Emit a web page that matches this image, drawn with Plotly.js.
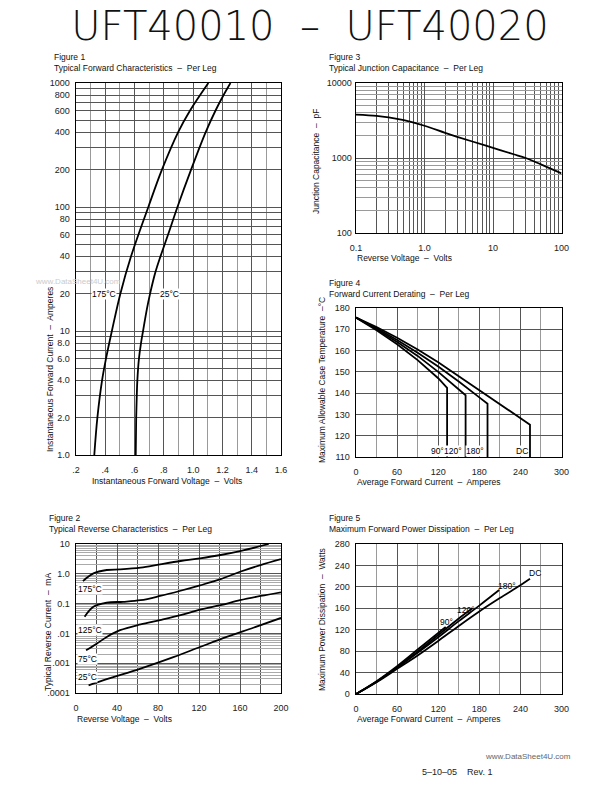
<!DOCTYPE html>
<html><head><meta charset="utf-8">
<script src="https://cdn.plot.ly/plotly-3.0.1.min.js"></script>
<style>html,body{margin:0;padding:0;background:#fff}#chart{width:612px;height:792px}</style>
</head><body><div id="chart"></div>
<script>
// ---------- Figure 1 : forward characteristics ----------
const f1_I175 = [1, 2, 4, 6, 10, 20, 40, 100, 200, 400, 600, 1000];
const f1_V175 = [0.325, 0.346, 0.378, 0.405, 0.445, 0.503, 0.576, 0.694, 0.787, 0.897, 0.979, 1.104];
const f1_I25 = [1, 2, 3, 4, 6, 8, 10, 15, 20, 30, 40, 60, 100, 200, 400, 600, 800, 1000];
const f1_V25 = [0.608, 0.611, 0.615, 0.619, 0.630, 0.644, 0.658, 0.684, 0.706, 0.743, 0.777, 0.829, 0.893, 0.986, 1.085, 1.153, 1.208, 1.255];
const f1_xticks = [0.2, 0.4, 0.6, 0.8, 1.0, 1.2, 1.4, 1.6];
const f1_xlabels = [".2", ".4", ".6", ".8", "1.0", "1.2", "1.4", "1.6"];
const f1_yticks = [1, 2, 4, 6, 8, 10, 20, 40, 60, 80, 100, 200, 400, 600, 800, 1000];
const f1_ylabels = ["1.0", "2.0", "4.0", "6.0", "8.0", "10", "20", "40", "60", "80", "100", "200", "400", "600", "800", "1000"];

// ---------- Figure 2 : reverse characteristics ----------
const f2_V175 = [6.8, 17, 30, 43, 63, 82, 102, 121, 141, 160, 188];
const f2_I175 = [0.57, 1.03, 1.34, 1.4, 1.6, 2.07, 2.69, 3.3, 4.27, 5.8, 10];
const f2_V125 = [8.4, 17, 30, 46, 63, 82, 102, 121, 141, 160, 180, 200];
const f2_I125 = [0.036, 0.078, 0.107, 0.115, 0.13, 0.18, 0.27, 0.41, 0.66, 1.17, 1.96, 3.1];
const f2_V75 = [9.8, 20.5, 30, 43, 63, 82, 102, 121, 141, 160, 180, 200];
const f2_I75 = [0.0027, 0.0046, 0.0076, 0.0128, 0.02, 0.028, 0.041, 0.063, 0.089, 0.13, 0.18, 0.24];
const f2_V25 = [12.3, 30, 63, 95, 121, 147, 173, 200];
const f2_I25 = [0.00018, 0.00029, 0.00066, 0.0016, 0.0035, 0.0076, 0.0155, 0.033];
const f2_xticks = [0, 40, 80, 120, 160, 200];
const f2_yticks = [0.0001, 0.001, 0.01, 0.1, 1, 10];
const f2_ylabels = [".0001", ".001", ".01", "0.1", "1.0", "10"];

// ---------- Figure 3 : junction capacitance ----------
const f3_V = [0.1, 0.2, 0.3, 0.5, 1, 2, 3, 5, 10, 20, 30, 50, 100];
const f3_C = [3793, 3648, 3483, 3199, 2692, 2163, 1919, 1660, 1365, 1122, 1000, 822, 624];
const f3_xticks = [0.1, 1, 10, 100];
const f3_xlabels = ["0.1", "1.0", "10", "100"];
const f3_yticks = [100, 1000, 10000];
const f3_ylabels = ["100", "1000", "10000"];

// ---------- Figure 4 : current derating ----------
const f4_A90 = [0, 30, 60, 90, 120, 133, 133];
const f4_T90 = [175.5, 169.5, 163, 155.5, 147, 142.5, 110];
const f4_A120 = [0, 30, 60, 90, 120, 150, 160, 160];
const f4_T120 = [175.5, 170, 164, 157.5, 150, 142, 139, 110];
const f4_A180 = [0, 30, 60, 90, 120, 150, 180, 192, 192];
const f4_T180 = [175.5, 170.5, 165, 159, 152.5, 145.5, 138, 135, 110];
const f4_ADC = [0, 30, 60, 90, 120, 150, 180, 210, 240, 254, 254];
const f4_TDC = [175.5, 171, 166, 160.5, 154.5, 148, 141.5, 135, 128.5, 125.2, 110];
const f4_labels = ["90°", "120°", "180°", "DC"];
const f4_labelA = [119, 142, 174, 243];
const f4_xticks = [0, 60, 120, 180, 240, 300];
const f4_yticks = [110, 120, 130, 140, 150, 160, 170, 180];

// ---------- Figure 5 : power dissipation ----------
const f5_A90 = [0, 30, 60, 90, 120, 131];
const f5_P90 = [0, 24, 52, 83, 114, 125];
const f5_A120 = [0, 30, 60, 90, 120, 150, 170];
const f5_P120 = [0, 23, 50, 79, 110, 141, 160];
const f5_A180 = [0, 30, 60, 90, 120, 150, 180, 209];
const f5_P180 = [0, 23, 49, 77, 106, 136, 165, 194];
const f5_ADC = [0, 30, 60, 90, 120, 150, 180, 210, 240, 254];
const f5_PDC = [0, 22, 47, 72, 99, 127, 154, 179, 203, 215];
const f5_labels = ["90°", "120°", "180°", "DC"];
const f5_labelA = [132, 161, 221, 262];
const f5_labelP = [135, 157, 201, 226];
const f5_xticks = [0, 60, 120, 180, 240, 300];
const f5_yticks = [0, 40, 80, 120, 160, 200, 240, 280];

// ---------- layout helpers ----------
const W = 612, H = 792;
const px = v => v / W;
const py = v => 1 - v / H;
const FONT = "Liberation Sans, Arial, sans-serif";
const tickFont = {family: FONT, size: 9, color: "#222"};
const MAJ = "#555", MIN = "#9a9a9a";

function logMinor(lo, hi, exclude) {
  const out = [];
  for (let e = lo; e < hi; e++) for (let d = 1; d <= 9; d++) {
    const v = +(d * Math.pow(10, e)).toPrecision(6);
    if (!exclude.some(x => Math.abs(x - v) / v < 1e-6)) out.push(v);
  }
  return out;
}
function linMinor(lo, hi, step) {
  const out = [];
  for (let v = lo; v <= hi + 1e-9; v += step) out.push(+v.toFixed(6));
  return out;
}
function axis(dom, opts) {
  return Object.assign({
    domain: dom, showline: true, mirror: true, linecolor: "#000", linewidth: 1.4,
    ticks: "", tickfont: tickFont, showgrid: true, gridcolor: MAJ, gridwidth: 1,
    zeroline: false, fixedrange: true, tickmode: "array", ticklabelstandoff: 3
  }, opts);
}
const line = (x, y, xa, ya) => ({x, y, xaxis: xa, yaxis: ya, type: "scatter", mode: "lines",
  line: {color: "#000", width: 1.8, shape: "spline", smoothing: 1}, hoverinfo: "skip", showlegend: false});
const lineStraight = (x, y, xa, ya) => ({x, y, xaxis: xa, yaxis: ya, type: "scatter", mode: "lines",
  line: {color: "#000", width: 1.8, shape: "linear"}, hoverinfo: "skip", showlegend: false});

const traces = [
  line(f1_V175, f1_I175, "x", "y"),
  line(f1_V25, f1_I25, "x", "y"),
  line(f3_V, f3_C, "x2", "y2"),
  lineStraight(f4_A90, f4_T90, "x3", "y3"),
  lineStraight(f4_A120, f4_T120, "x3", "y3"),
  lineStraight(f4_A180, f4_T180, "x3", "y3"),
  lineStraight(f4_ADC, f4_TDC, "x3", "y3"),
  line(f2_V175, f2_I175, "x4", "y4"),
  line(f2_V125, f2_I125, "x4", "y4"),
  line(f2_V75, f2_I75, "x4", "y4"),
  line(f2_V25, f2_I25, "x4", "y4"),
  line(f5_A90, f5_P90, "x5", "y5"),
  line(f5_A120, f5_P120, "x5", "y5"),
  line(f5_A180, f5_P180, "x5", "y5"),
  line(f5_ADC, f5_PDC, "x5", "y5")
];

const txt = (x, y, text, o) => Object.assign({xref: "paper", yref: "paper", x: px(x), y: py(y), text,
  showarrow: false, xanchor: "left", yanchor: "middle", font: {family: FONT, size: 8.5, color: "#111"}}, o || {});
const lbl = (xr, yr, x, y, text, o) => Object.assign({xref: xr, yref: yr, x, y, text, showarrow: false,
  font: {family: FONT, size: 8.5, color: "#000"}}, o || {});

const annotations = [
  txt(52, 57, "Figure 1"), txt(52, 68, "Typical Forward Characteristics  –  Per Leg"),
  txt(327, 57, "Figure 3"), txt(327, 68, "Typical Junction Capacitance  –  Per Leg"),
  txt(327, 283, "Figure 4"), txt(327, 294, "Forward Current Derating  –  Per Leg"),
  txt(47, 518, "Figure 2"), txt(47, 529, "Typical Reverse Characteristics  –  Per Leg"),
  txt(327, 518, "Figure 5"), txt(327, 529, "Maximum Forward Power Dissipation  –  Per Leg"),
  // axis titles
  txt(50, 370, "Instantaneous Forward Current  –  Amperes", {xanchor: "center", textangle: -90}),
  txt(167, 481, "Instantaneous Forward Voltage  –  Volts", {xanchor: "center"}),
  txt(316, 162, "Junction Capacitance  –  pF", {xanchor: "center", textangle: -90}),
  txt(404, 258, "Reverse Voltage  –  Volts", {xanchor: "center"}),
  txt(322, 380, "Maximum Allowable Case Temperature  –°C", {xanchor: "center", textangle: -90}),
  txt(428, 482, "Average Forward Current  –  Amperes", {xanchor: "center"}),
  txt(48, 632, "Typical Reverse Current  –  mA", {xanchor: "center", textangle: -90}),
  txt(124, 719, "Reverse Voltage  –  Volts", {xanchor: "center"}),
  txt(322, 620, "Maximum Power Dissipation  –  Watts", {xanchor: "center", textangle: -90}),
  txt(428, 719, "Average Forward Current  –  Amperes", {xanchor: "center"}),
  // footer and watermark
  txt(483, 756, "www.DataSheet4U.com", {font: {family: FONT, size: 8, color: "#666"}}),
  txt(420, 772, "5–10–05    Rev. 1", {font: {family: FONT, size: 9, color: "#222"}}),
  txt(33, 281, "www.DataSheet4U.com", {font: {family: FONT, size: 8, color: "#ccc"}}),
  // curve labels fig 1
  lbl("x", "y", 0.39, Math.log10(20), "175°C", {bgcolor: "#fff", borderpad: 0}),
  lbl("x", "y", 0.84, Math.log10(20), "25°C", {bgcolor: "#fff", borderpad: 0}),
  // curve labels fig 2
  ...[["175°C", 0.3], ["125°C", 0.0135], ["75°C", 0.0014], ["25°C", 0.00035]].map(([t, v]) =>
    lbl("x4", "y4", 1, Math.log10(v), t, {xanchor: "left", bgcolor: "#fff", borderpad: 0})),
  // curve labels fig 4
  ...f4_labels.map((t, i) => lbl("x3", "y3", f4_labelA[i], 112.8, t, {bgcolor: "#fff", borderpad: 0})),
  // curve labels fig 5
  ...f5_labels.map((t, i) => lbl("x5", "y5", f5_labelA[i], f5_labelP[i], t))
];

const layout = {
  width: W, height: H, margin: {l: 0, r: 0, t: 0, b: 0},
  paper_bgcolor: "#fff", plot_bgcolor: "#fff", showlegend: false,
  title: {text: "UFT40010  –  UFT40020", x: 310 / W, xanchor: "center", y: py(26), yanchor: "middle",
    font: {family: "DejaVu Sans ExtraLight, DejaVu Sans, sans-serif", size: 40, weight: 200, color: "#111"}},
  // Figure 1
  xaxis: axis([px(76), px(281)], {anchor: "y", range: [0.2, 1.6], tickvals: f1_xticks, ticktext: f1_xlabels,
    ticklabelstandoff: 6,
    minor: {tickmode: "array", tickvals: linMinor(0.3, 1.5, 0.2), showgrid: true, gridcolor: MIN, gridwidth: 1, ticks: ""}}),
  yaxis: axis([py(455), py(83)], {anchor: "x", type: "log", range: [0, 3], tickvals: f1_yticks, ticktext: f1_ylabels,
    minor: {tickmode: "array", tickvals: logMinor(0, 3, f1_yticks), showgrid: true, gridcolor: MAJ, gridwidth: 1, ticks: ""}}),
  // Figure 3
  xaxis2: axis([px(356), px(561.5)], {anchor: "y2", type: "log", range: [-1, 2], tickvals: f3_xticks, ticktext: f3_xlabels,
    ticklabelstandoff: 6,
    minor: {tickmode: "array", tickvals: logMinor(-1, 2, f3_xticks), showgrid: true, gridcolor: MAJ, gridwidth: 1, ticks: ""}}),
  yaxis2: axis([py(233), py(83)], {anchor: "x2", type: "log", range: [2, 4], tickvals: f3_yticks, ticktext: f3_ylabels,
    ticklabelstandoff: 1,
    minor: {tickmode: "array", tickvals: logMinor(2, 4, f3_yticks), showgrid: true, gridcolor: MIN, gridwidth: 1, ticks: ""}}),
  // Figure 4
  xaxis3: axis([px(356), px(561.5)], {anchor: "y3", range: [0, 300], tickvals: f4_xticks,
    ticklabelstandoff: 6,
    minor: {tickmode: "array", tickvals: linMinor(30, 270, 60), showgrid: true, gridcolor: MIN, gridwidth: 1, ticks: ""}}),
  yaxis3: axis([py(457), py(308)], {anchor: "x3", range: [110, 180], tickvals: f4_yticks}),
  // Figure 2
  xaxis4: axis([px(76), px(281)], {anchor: "y4", range: [0, 200], tickvals: f2_xticks,
    ticklabelstandoff: 6,
    minor: {tickmode: "array", tickvals: linMinor(20, 180, 40), showgrid: true, gridcolor: MAJ, gridwidth: 1, ticks: ""}}),
  yaxis4: axis([py(693), py(544)], {anchor: "x4", type: "log", range: [-4, 1], tickvals: f2_yticks, ticktext: f2_ylabels,
    minor: {tickmode: "array", tickvals: logMinor(-4, 1, f2_yticks), showgrid: true, gridcolor: "#aaa", gridwidth: 1, ticks: ""}}),
  // Figure 5
  xaxis5: axis([px(356), px(561.5)], {anchor: "y5", range: [0, 300], tickvals: f5_xticks,
    ticklabelstandoff: 6,
    minor: {tickmode: "array", tickvals: linMinor(30, 270, 60), showgrid: true, gridcolor: MIN, gridwidth: 1, ticks: ""}}),
  yaxis5: axis([py(694), py(544)], {anchor: "x5", range: [0, 280], tickvals: f5_yticks}),
  annotations
};

Plotly.newPlot("chart", traces, layout, {staticPlot: true, displayModeBar: false});
</script>
</body></html>
